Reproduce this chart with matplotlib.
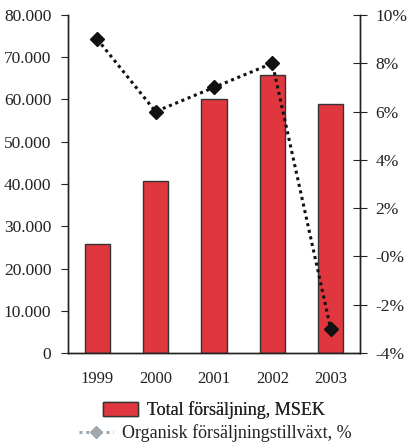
import matplotlib
matplotlib.use("Agg")
import matplotlib.pyplot as plt
from matplotlib.lines import Line2D
from matplotlib.patches import Patch
from matplotlib.ticker import FuncFormatter

years = ["1999", "2000", "2001", "2002", "2003"]
sales_msek = [25700, 40800, 60100, 65800, 58900]
organic_growth_pct = [9, 6, 7, 8, -3]

sales_ticks = [0, 10000, 20000, 30000, 40000, 50000, 60000, 70000, 80000]
growth_ticks = [-4, -2, 0, 2, 4, 6, 8, 10]

plt.rcParams["font.family"] = ["Liberation Serif", "DejaVu Serif"]

fig = plt.figure(figsize=(4.09, 4.46), dpi=100)
ax = fig.add_axes([0.1663, 0.2085, 0.7137, 0.7579])
ax2 = ax.twinx()

x = list(range(len(years)))
ax.bar(x, sales_msek, width=0.43, color="#E0363E", edgecolor="#333333",
       linewidth=1.0, zorder=2)
ax.set_xlim(-0.5, len(years) - 0.5)
ax.set_ylim(0, 80000)
ax.set_yticks(sales_ticks)
ax.yaxis.set_major_formatter(
    FuncFormatter(lambda v, p: "0" if v == 0 else f"{int(v):,}".replace(",", ".")))
ax.set_xticks(x)
ax.set_xticklabels(years)
ax.tick_params(axis="x", length=0, pad=13, labelsize=12, colors="#222222")
ax.tick_params(axis="y", direction="out", length=5, width=0.8, pad=7,
               labelsize=12.5, colors="#222222")

ax2.plot(x, organic_growth_pct, color="#111111", linestyle=(0, (1, 1.2)),
         linewidth=2.2, marker="D", markersize=7, markerfacecolor="#111111",
         markeredgecolor="#111111", zorder=3)
ax2.set_ylim(-4, 10)
ax2.set_yticks(growth_ticks)
ax2.yaxis.set_major_formatter(
    FuncFormatter(lambda v, p: "-0%" if v == 0 else f"{int(v)}%"))
ax2.tick_params(axis="y", direction="inout", length=10, width=0.8, pad=6,
                labelsize=12.5, colors="#222222")

for a in (ax, ax2):
    a.spines["top"].set_visible(False)
    for s in ("left", "right", "bottom"):
        a.spines[s].set_color("#222222")
        a.spines[s].set_linewidth(1.0)

h1 = Patch(facecolor="#E0363E", edgecolor="#333333", linewidth=1.0)
h2 = Line2D([0], [0], color="#A0A8AD", linestyle=(0, (1, 1.2)), linewidth=2.2,
            marker="D", markersize=6, markerfacecolor="#A0A8AD",
            markeredgecolor="#A0A8AD")

leg1 = fig.legend([h1], ["Total försäljning, MSEK"], loc="center",
                  bbox_to_anchor=(214 / 409, 1 - 410 / 446), frameon=False,
                  fontsize=13, handlelength=1.9, handleheight=0.8,
                  handletextpad=0.5, borderpad=0, borderaxespad=0)
leg2 = fig.legend([h2], ["Organisk försäljningstillväxt, %"], loc="center",
                  bbox_to_anchor=(215 / 409, 1 - 433 / 446), frameon=False,
                  fontsize=13, handlelength=1.9, handletextpad=0.5,
                  borderpad=0, borderaxespad=0)
fig.add_artist(leg1)
for t in leg1.get_texts() + leg2.get_texts():
    t.set_color("#222222")

fig.savefig("out.png", dpi=100)
